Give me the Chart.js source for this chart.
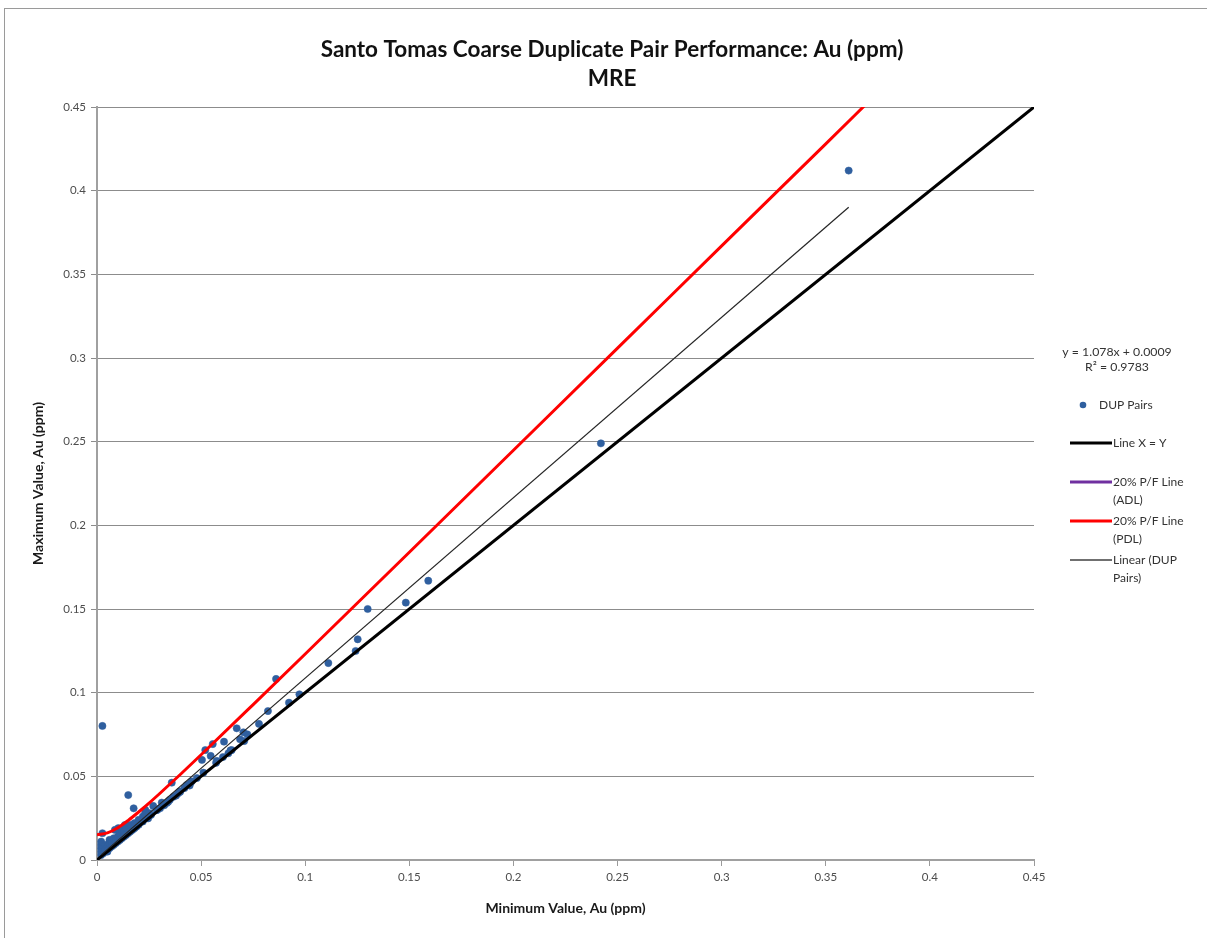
<!DOCTYPE html>
<html>
<head>
<meta charset="utf-8">
<title>Santo Tomas Coarse Duplicate Pair Performance</title>
<script src="https://cdn.jsdelivr.net/npm/chart.js@4.4.0/dist/chart.umd.min.js"></script>
<style>
  html, body { margin: 0; padding: 0; background: #fff; overflow: hidden; }
  canvas { display: block; }
</style>
</head>
<body>
<canvas id="chart" width="1207" height="938"></canvas>
<script>
// Coarse duplicate pairs: lower and higher assay of each pair, Au (ppm)
const dupMin = [0.002,0.002,0.002,0.002,0.002,0.0026,0.0026,0.003,0.004,0.004,
  0.005,0.005,0.006,0.006,0.006,0.007,0.007,0.008,0.008,0.0086,
  0.009,0.009,0.010,0.010,0.0102,0.011,0.011,0.012,0.012,0.013,
  0.013,0.0134,0.014,0.014,0.015,0.015,0.016,0.016,0.017,0.0176,
  0.018,0.018,0.019,0.020,0.020,0.0215,0.022,0.022,0.0231,0.0232,
  0.024,0.0246,0.025,0.026,0.027,0.0287,0.029,0.0303,0.0311,0.0323,
  0.0335,0.0342,0.035,0.0359,0.0367,0.038,0.039,0.0398,0.0399,0.042,
  0.0431,0.0445,0.0447,0.0455,0.048,0.0504,0.0511,0.052,0.0546,0.0556,
  0.0572,0.0575,0.061,0.0605,0.0631,0.0647,0.0641,0.0671,0.0687,0.0703,
  0.0707,0.0722,0.0778,0.0821,0.086,0.0922,0.0972,0.1111,0.1242,0.1252,
  0.13,0.1483,0.1591,0.242,0.361];
const dupMax = [0.003,0.005,0.007,0.009,0.011,0.016,0.0801,0.004,0.006,0.009,
  0.005,0.008,0.007,0.010,0.012,0.008,0.011,0.009,0.013,0.018,
  0.010,0.012,0.011,0.014,0.019,0.012,0.016,0.013,0.018,0.014,
  0.017,0.0209,0.015,0.019,0.016,0.0388,0.017,0.021,0.018,0.0309,
  0.019,0.022,0.020,0.021,0.024,0.0229,0.023,0.026,0.0279,0.0299,
  0.025,0.0249,0.028,0.027,0.0323,0.0299,0.030,0.0309,0.0343,0.0327,
  0.034,0.0348,0.036,0.0462,0.0378,0.0385,0.0399,0.041,0.0407,0.043,
  0.0448,0.0445,0.0458,0.047,0.049,0.0598,0.0522,0.0657,0.0622,0.0693,
  0.0581,0.0592,0.0707,0.0615,0.0638,0.0657,0.0655,0.0787,0.0721,0.0763,
  0.0711,0.0751,0.0813,0.089,0.1082,0.094,0.099,0.1177,0.1249,0.1319,
  0.15,0.1538,0.1669,0.249,0.412];

// 20% pass/fail curve (practical detection limit)
const pdlMin = [0,0.005,0.01,0.015,0.02,0.025,0.03,0.04,0.05,0.075,0.1,0.15,0.2,0.25,0.3,0.35,0.37];
const pdlMax = [0.015,0.0162,0.0193,0.0237,0.0287,0.034,0.0396,0.0511,0.0629,0.0929,0.1231,0.1839,0.2449,0.3059,0.367,0.428,0.4525];

// 1:1 reference line
const identityEnds = [0, 0.45];

// Least-squares fit of the duplicate pairs
const trendSlope = 1.078;
const trendIntercept = 0.0009;
const trendRange = [0.002, 0.361];
const trendLabel = ['y = 1.078x + 0.0009', 'R\u00B2 = 0.9783'];

const tickLabels = ['0','0.05','0.1','0.15','0.2','0.25','0.3','0.35','0.4','0.45'];
const titleLines = ['Santo Tomas Coarse Duplicate Pair Performance: Au (ppm)', 'MRE'];

const FONT = 'Lato, "Open Sans", "Liberation Sans", sans-serif';

const pairs = dupMin.map((v, i) => ({ x: v, y: dupMax[i] }));
const identity = identityEnds.map(v => ({ x: v, y: v }));
const pdl = pdlMin.map((v, i) => ({ x: v, y: pdlMax[i] }));
const trend = trendRange.map(v => ({ x: v, y: trendSlope * v + trendIntercept }));

const legendRows = [
  { text: ['DUP Pairs'], kind: 'dot', color: '#2f5f9f', y: 405 },
  { text: ['Line X = Y'], kind: 'line', color: '#000000', width: 3, y: 443 },
  { text: ['20% P/F Line', '(ADL)'], kind: 'line', color: '#7030a0', width: 3, y: 482 },
  { text: ['20% P/F Line', '(PDL)'], kind: 'line', color: '#ff0000', width: 3, y: 521 },
  { text: ['Linear (DUP', 'Pairs)'], kind: 'line', color: '#404040', width: 1.5, y: 560 }
];

// Frame, title and side legend
const decorations = {
  id: 'decorations',
  beforeDraw(chart) {
    const ctx = chart.ctx;
    ctx.save();
    ctx.fillStyle = '#ffffff';
    ctx.fillRect(0, 0, chart.width, chart.height);
    ctx.strokeStyle = '#9a9a9a';
    ctx.lineWidth = 1;
    ctx.strokeRect(4.5, 8.5, chart.width + 10, chart.height + 10);
    ctx.restore();
  },
  afterDraw(chart) {
    const ctx = chart.ctx;
    ctx.save();
    ctx.fillStyle = '#111111';
    ctx.textAlign = 'center';
    ctx.textBaseline = 'middle';
    ctx.font = 'bold 22.5px ' + FONT;
    ctx.fillText(titleLines[0], 612, 50);
    ctx.fillText(titleLines[1], 612, 79);

    ctx.font = '12.3px ' + FONT;
    ctx.fillStyle = '#333333';
    ctx.fillText(trendLabel[0], 1117, 352);
    ctx.fillText(trendLabel[1], 1117, 367);

    ctx.font = '12px ' + FONT;
    ctx.textAlign = 'left';
    legendRows.forEach(row => {
      if (row.kind === 'dot') {
        ctx.beginPath();
        ctx.arc(1083, row.y, 3.3, 0, Math.PI * 2);
        ctx.fillStyle = row.color;
        ctx.fill();
        ctx.fillStyle = '#333333';
        ctx.fillText(row.text[0], 1099, row.y);
      } else {
        ctx.beginPath();
        ctx.moveTo(1070, row.y);
        ctx.lineTo(1112, row.y);
        ctx.strokeStyle = row.color;
        ctx.lineWidth = row.width;
        ctx.stroke();
        ctx.fillStyle = '#333333';
        row.text.forEach((t, i) => ctx.fillText(t, 1113, row.y + i * 18));
      }
    });
    ctx.restore();
  }
};

new Chart(document.getElementById('chart'), {
  type: 'scatter',
  data: {
    datasets: [
      {
        label: 'DUP Pairs',
        data: pairs,
        order: 10,
        pointRadius: 3.6,
        pointHoverRadius: 3.6,
        pointBackgroundColor: '#2f5f9f',
        pointBorderColor: 'rgba(47,95,159,0.55)',
        pointBorderWidth: 1
      },
      {
        label: 'Line X = Y',
        data: identity,
        order: 1,
        showLine: true,
        borderColor: '#000000',
        borderWidth: 3,
        pointRadius: 0
      },
      {
        label: '20% P/F Line (ADL)',
        data: [],
        order: 2,
        showLine: true,
        borderColor: '#7030a0',
        borderWidth: 3,
        pointRadius: 0
      },
      {
        label: '20% P/F Line (PDL)',
        data: pdl,
        order: 3,
        showLine: true,
        borderColor: '#ff0000',
        borderWidth: 3,
        pointRadius: 0,
        tension: 0.3,
        cubicInterpolationMode: 'monotone'
      },
      {
        label: 'Linear (DUP Pairs)',
        data: trend,
        order: 0,
        showLine: true,
        borderColor: '#262626',
        borderWidth: 1.2,
        pointRadius: 0
      }
    ]
  },
  options: {
    responsive: false,
    animation: false,
    devicePixelRatio: 1,
    layout: { padding: { left: 0, right: 173, top: 107, bottom: 0 } },
    plugins: {
      legend: { display: false },
      title: { display: false },
      tooltip: { enabled: false }
    },
    scales: {
      x: {
        type: 'linear',
        min: 0,
        max: 0.45,
        afterFit(scale) { scale.height = 78; },
        ticks: {
          stepSize: 0.05,
          padding: 4,
          color: '#4d4d4d',
          font: { family: FONT, size: 11.5 },
          maxRotation: 0,
          callback: (v, i) => tickLabels[i]
        },
        grid: {
          drawOnChartArea: false,
          drawTicks: true,
          tickLength: 6,
          color: '#9a9a9a'
        },
        border: { color: '#a0a0a0', width: 2 },
        title: {
          display: true,
          text: 'Minimum Value, Au (ppm)',
          color: '#1a1a1a',
          font: { family: FONT, size: 14, weight: 'bold' },
          padding: { top: 0, bottom: 21.6 }
        }
      },
      y: {
        type: 'linear',
        min: 0,
        max: 0.45,
        afterFit(scale) { scale.width = 97; },
        ticks: {
          stepSize: 0.05,
          padding: 5,
          color: '#4d4d4d',
          font: { family: FONT, size: 11.5 },
          callback: (v, i) => tickLabels[i]
        },
        grid: {
          color: '#8c8c8c',
          lineWidth: 1,
          tickLength: 6
        },
        border: { color: '#a0a0a0', width: 2 },
        title: {
          display: true,
          text: 'Maximum Value, Au (ppm)',
          color: '#1a1a1a',
          font: { family: FONT, size: 14, weight: 'bold' },
          padding: { top: 29.6, bottom: 0 }
        }
      }
    }
  },
  plugins: [decorations]
});
</script>
</body>
</html>
